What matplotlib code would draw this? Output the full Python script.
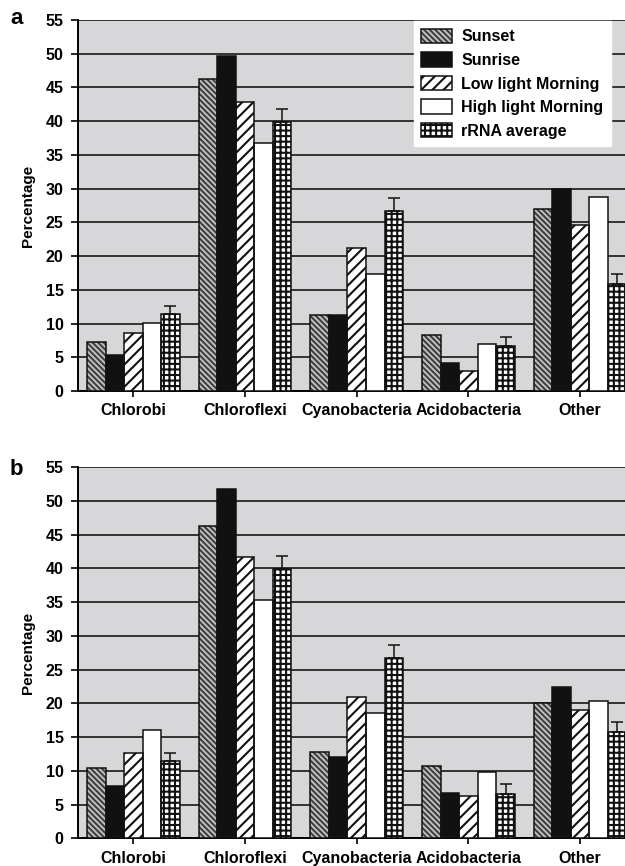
import numpy as np
import matplotlib.pyplot as plt
from matplotlib.patches import Patch

plt.rcParams['font.family'] = ['Liberation Sans', 'DejaVu Sans']
plt.rcParams['font.weight'] = 'bold'
plt.rcParams['hatch.linewidth'] = 1.5

categories = ['Chlorobi', 'Chloroflexi', 'Cyanobacteria', 'Acidobacteria', 'Other']
series = ['Sunset', 'Sunrise', 'Low light Morning', 'High light Morning', 'rRNA average']

# panel a
a_sunset = [7.3, 46.3, 11.3, 8.3, 27.0]
a_sunrise = [5.3, 49.7, 11.2, 4.1, 30.0]
a_low = [8.6, 42.9, 21.2, 2.9, 24.6]
a_high = [10.1, 36.8, 17.4, 6.9, 28.7]

# panel b
b_sunset = [10.4, 46.3, 12.8, 10.7, 20.0]
b_sunrise = [7.8, 51.8, 12.0, 6.7, 22.5]
b_low = [12.7, 41.7, 20.9, 6.2, 19.0]
b_high = [16.0, 35.3, 18.6, 9.9, 20.4]

# rRNA average is the same in both panels
rrna = [11.4, 39.9, 26.7, 6.6, 15.8]
rrna_err = [1.2, 1.9, 1.9, 1.4, 1.5]

yticks = list(range(0, 56, 5))

fig = plt.figure(figsize=(6.25, 8.66), dpi=100)

styles = [
    dict(facecolor='#c4c4c4', hatch='\\\\\\\\\\\\', hcolor='#404040'),
    dict(facecolor='#111111', hatch=None, hcolor=None),
    dict(facecolor='white', hatch='///', hcolor='#111111'),
    dict(facecolor='white', hatch=None, hcolor=None),
    dict(facecolor='white', hatch='+++', hcolor='#111111'),
]


def draw_panel(ax, data, letter, letter_y):
    x = np.arange(len(categories))
    w = 0.166
    ax.set_facecolor('#d7d7d9')
    for i, vals in enumerate(data):
        st = styles[i]
        pos = x + (i - 2) * w
        if st['hatch']:
            ax.bar(pos, vals, w, color=st['facecolor'], edgecolor=st['hcolor'],
                   hatch=st['hatch'], linewidth=0, zorder=3)
        else:
            ax.bar(pos, vals, w, color=st['facecolor'], linewidth=0, zorder=3)
        ax.bar(pos, vals, w, fill=False, edgecolor='#111111', linewidth=1.1, zorder=4)
        if i == 4:
            ax.errorbar(pos, vals, yerr=[np.zeros(len(vals)), rrna_err], fmt='none',
                        ecolor='#111111', elinewidth=1.1, capsize=4.5, capthick=1.1, zorder=5)
    ax.set_xlim(-0.5, 4.5)
    ax.set_ylim(0, 55)
    ax.set_yticks(yticks)
    ax.set_xticks(x)
    ax.set_xticklabels(categories, fontsize=11.5, fontweight='bold')
    ax.tick_params(axis='y', labelsize=11.5, length=5, width=1.2, direction='out', pad=5)
    ax.tick_params(axis='x', length=4, width=1.2, direction='out', pad=5)
    ax.yaxis.grid(True, color='#333333', linewidth=1.4, zorder=1)
    ax.set_axisbelow(True)
    for s in ['top', 'right']:
        ax.spines[s].set_visible(False)
    ax.spines['left'].set_linewidth(1.4)
    ax.spines['bottom'].set_linewidth(1.4)
    ax.set_ylabel('Percentage', fontsize=11, fontweight='bold', labelpad=8)
    fig.text(0.016, letter_y, letter, fontsize=16, fontweight='bold', va='baseline')


ax_a = fig.add_axes([0.124, 0.5485, 0.8936, 0.4284])
draw_panel(ax_a, [a_sunset, a_sunrise, a_low, a_high, rrna], 'a', 0.972)

ax_b = fig.add_axes([0.124, 0.032, 0.8936, 0.4284])
draw_panel(ax_b, [b_sunset, b_sunrise, b_low, b_high, rrna], 'b', 0.452)

handles = []
for st in styles:
    if st['hatch']:
        p1 = Patch(facecolor=st['facecolor'], edgecolor=st['hcolor'], hatch=st['hatch'], linewidth=0)
        p2 = Patch(fill=False, edgecolor='#111111', linewidth=1.1)
        handles.append((p1, p2))
    else:
        handles.append(Patch(facecolor=st['facecolor'], edgecolor='#111111', linewidth=1.1))

leg = ax_a.legend(handles, series, loc='upper left', bbox_to_anchor=(0.603, 0.996),
                  frameon=True, fancybox=False, framealpha=1, edgecolor='white',
                  prop={'weight': 'bold', 'size': 11.5}, handlelength=1.9, handleheight=1.0,
                  handletextpad=0.6, labelspacing=0.5, borderpad=0.45, borderaxespad=0)
leg.set_zorder(10)

fig.savefig('out.png', dpi=100)
